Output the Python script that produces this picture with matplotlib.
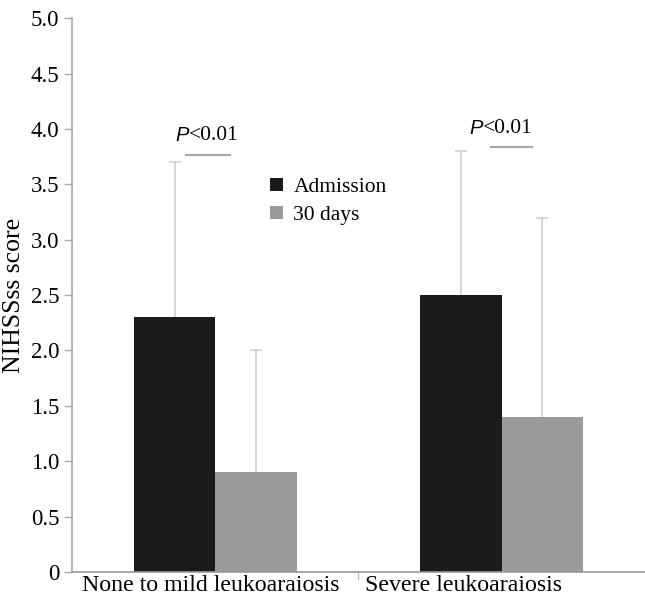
import matplotlib
matplotlib.use("Agg")
import matplotlib.pyplot as plt
import numpy as np

categories = ["None to mild leukoaraiosis", "Severe leukoaraiosis"]
series_names = ["Admission", "30 days"]
admission = [2.3, 2.5]
admission_err = [1.4, 1.3]
days30 = [0.9, 1.4]
days30_err = [1.1, 1.8]
p_labels = ["<0.01", "<0.01"]
yticks = [0, 0.5, 1.0, 1.5, 2.0, 2.5, 3.0, 3.5, 4.0, 4.5, 5.0]
ytick_labels = ["0", "0.5", "1.0", "1.5", "2.0", "2.5", "3.0", "3.5", "4.0", "4.5", "5.0"]

serif = "Liberation Serif"
fig = plt.figure(figsize=(6.45, 6.04), dpi=100)
ax = fig.add_axes([0.1116, 0.053, 0.8884, 0.917])

x = np.arange(len(categories))
w = 0.284
ecol = "#d0d0d0"
ax.bar(x - w / 2, admission, w, color="#1c1a1b", label=series_names[0], zorder=2)
ax.bar(x + w / 2, days30, w, color="#999a9c", label=series_names[1], zorder=2)
for xs, vals, errs in [(x - w / 2, admission, admission_err), (x + w / 2, days30, days30_err)]:
    eb = ax.errorbar(xs, vals, yerr=[np.zeros(2), errs], fmt="none",
                     ecolor=ecol, elinewidth=1.2, capsize=4.5, capthick=1.2, zorder=1)
    caps = eb[1]
    if len(caps) == 2:
        caps[0].set_visible(False)

# significance annotations
p_text_y = [3.94, 4.0]
p_line_y = [3.76, 3.84]
p_text_x = [-0.093, 0.934]
p_line_x = [(-0.103, 0.051), (0.961, 1.105)]
for i in range(2):
    ax.plot(p_line_x[i], [p_line_y[i]] * 2, color="#a9a9a9", lw=1.6, zorder=3)
    ax.text(p_text_x[i], p_text_y[i], "P", ha="right", va="center",
            fontsize=14.5, style="italic", family="Liberation Sans")
    ax.text(p_text_x[i], p_text_y[i], p_labels[i], ha="left", va="center",
            fontsize=15.5, family=serif)

ax.set_xlim(-0.5, 1.5)
ax.set_ylim(0, 5.0)
ax.set_yticks(yticks)
ax.set_yticklabels(ytick_labels, family=serif, fontsize=16.5)
ax.set_xticks([0.5])
ax.set_xticklabels([""])
ax.tick_params(axis="x", length=5, color="#bbbbbb", width=1)
ax.tick_params(axis="y", length=6, color="#aaaaaa", width=1, pad=3)
cat_x = [-0.015, 0.865]
for i, c in enumerate(categories):
    ax.text(cat_x[i], -0.125, c, ha="center", va="center", family=serif, fontsize=17.2,
            transform=ax.transData)

for s in ["top", "right"]:
    ax.spines[s].set_visible(False)
ax.spines["left"].set_color("#aaaaaa")
ax.spines["bottom"].set_color("#999999")
ax.spines["left"].set_linewidth(1.2)
ax.spines["bottom"].set_linewidth(1.2)

ax.set_ylabel("NIHSSss score", family=serif, fontsize=18.5, labelpad=4)

leg = ax.legend(loc="upper left", bbox_to_anchor=(0.345, 0.712), frameon=False,
                prop={"family": serif, "size": 15.5}, handlelength=0.6, handleheight=0.6,
                handletextpad=0.5, labelspacing=0.4, borderpad=0, borderaxespad=0)

fig.savefig("out.png", dpi=100)
